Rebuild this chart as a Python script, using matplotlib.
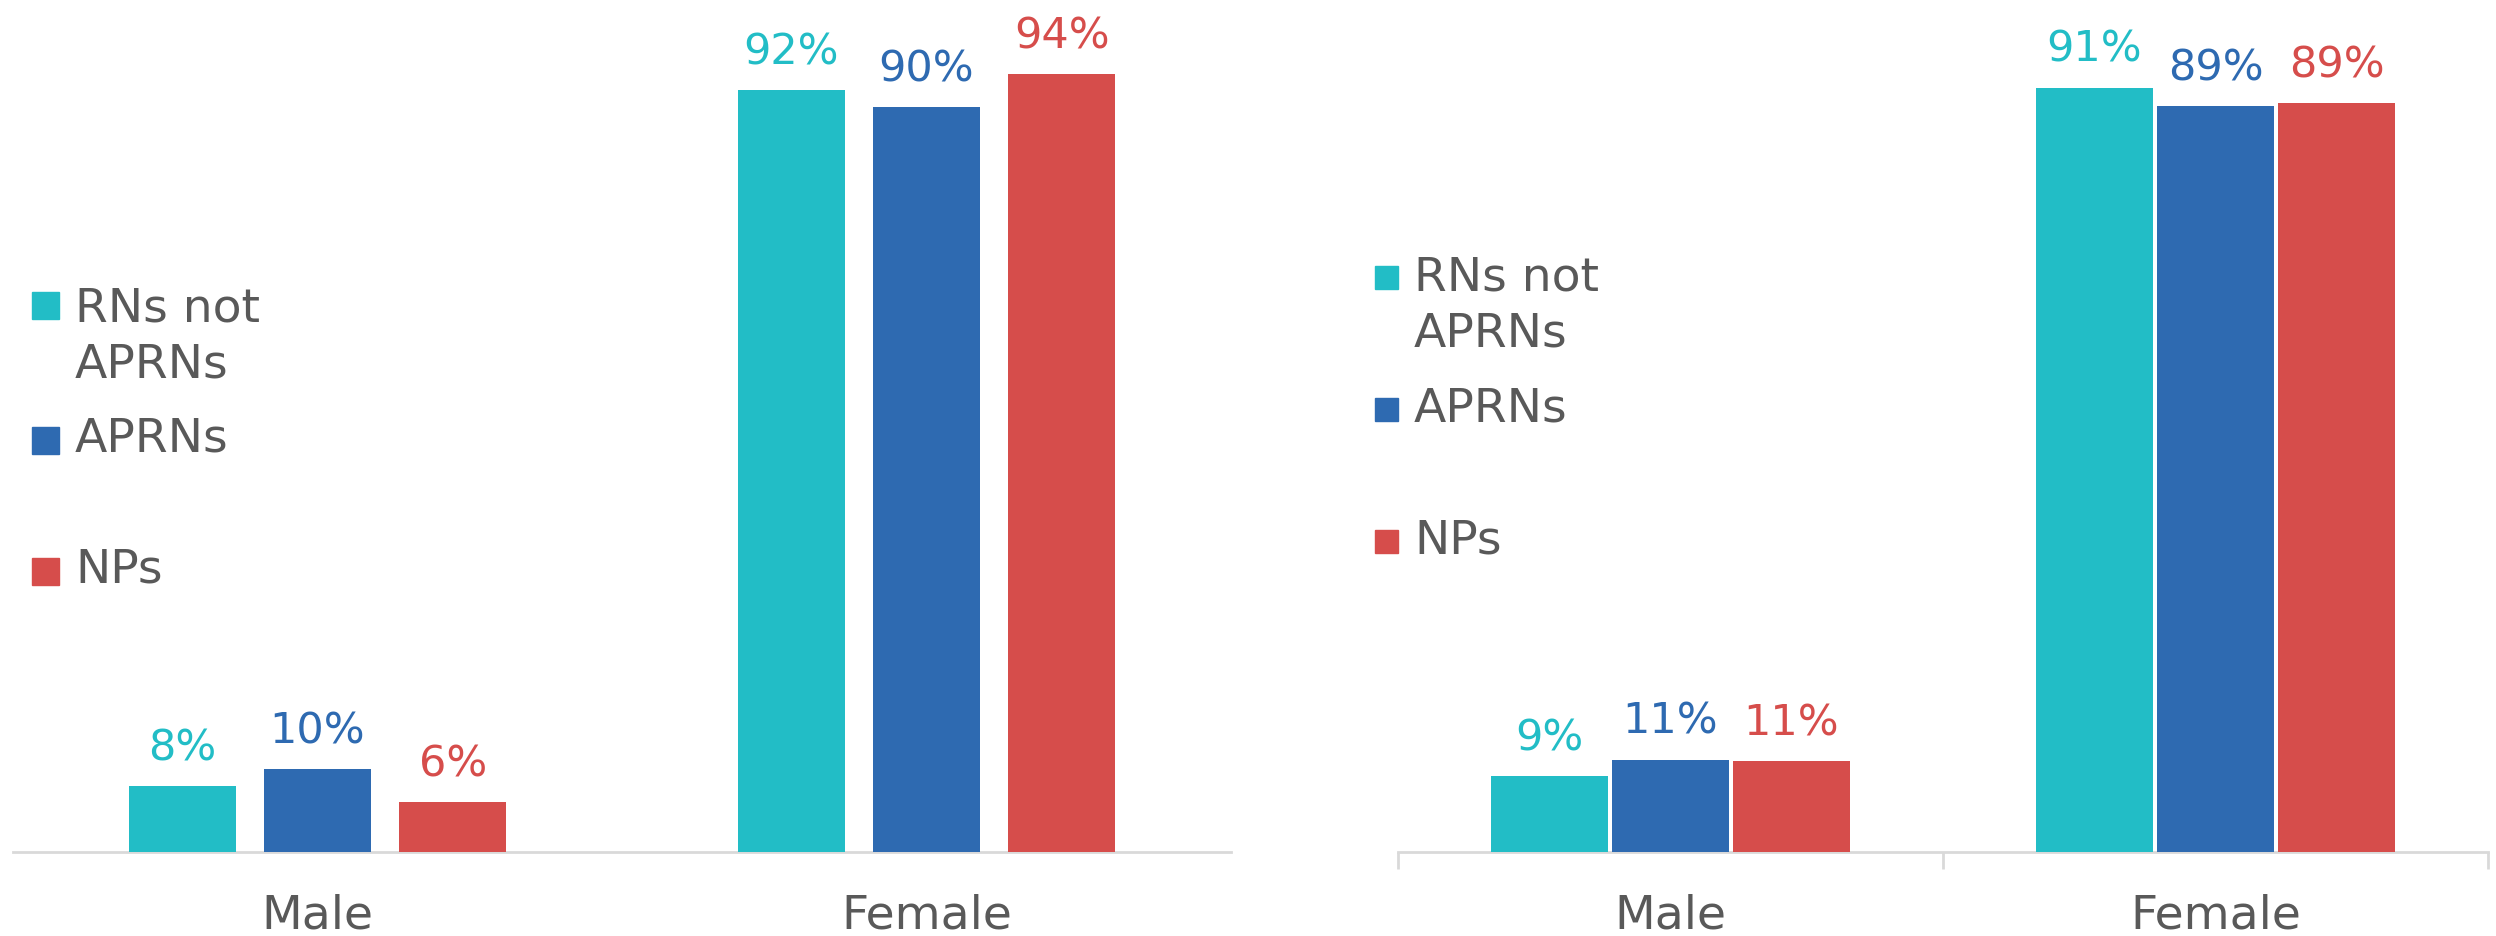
"""
Gender split of RNs, APRNs and NPs - two panels side by side
"""
import matplotlib.pyplot as plt
from matplotlib.patches import Rectangle
import numpy as np

categories = ['Male', 'Female']
series_names = ['RNs not\nAPRNs', 'APRNs', 'NPs']
colors = ['#22BDC6', '#2E6AB1', '#D64D4B']

left_values = [[8, 92], [10, 90], [6, 94]]
left_labels = [['8%', '92%'], ['10%', '90%'], ['6%', '94%']]

right_values = [[9, 91], [11, 88.8], [10.8, 89.2]]
right_labels = [['9%', '91%'], ['11%', '89%'], ['11%', '89%']]

TEXT_GRAY = '#595959'
AXIS_GRAY = '#D9D9D9'
W, H = 2496, 936

plt.rcParams['font.family'] = ['DejaVu Sans']

fig = plt.figure(figsize=(W / 100, H / 100), dpi=100)
fig.patch.set_facecolor('white')


def fx(px):
    return px / W


def fy(py):
    return 1 - py / H


def draw_panel(ax, values, labels, bar_width, step, boundary_ticks):
    x = np.arange(len(categories))
    for k, (vals, labs) in enumerate(zip(values, labels)):
        offset = (k - 1) * step
        bars = ax.bar(x + offset, vals, width=bar_width, color=colors[k],
                      edgecolor='none', zorder=3)
        ax.bar_label(bars, labels=labs, padding=12, color=colors[k],
                     fontsize=31)
    ax.set_xlim(-0.5, len(categories) - 0.5)
    ax.set_ylim(0, 100)
    ax.set_xticks(x)
    ax.set_xticklabels(categories, fontsize=34, color=TEXT_GRAY)
    ax.tick_params(axis='x', which='major', length=0, pad=30)
    ax.set_yticks([])
    for side in ['top', 'right', 'left']:
        ax.spines[side].set_visible(False)
    ax.spines['bottom'].set_color(AXIS_GRAY)
    ax.spines['bottom'].set_linewidth(2)
    if boundary_ticks:
        ax.set_xticks(np.arange(-0.5, len(categories)), minor=True)
        ax.tick_params(axis='x', which='minor', length=12, width=2,
                       color=AXIS_GRAY, direction='out')


def draw_legend(x_marker, marker_size, x_text, marker_ys, text_ys):
    for k in range(len(series_names)):
        fig.add_artist(Rectangle((fx(x_marker), fy(marker_ys[k] + marker_size / 2)),
                                 marker_size / W, marker_size / H,
                                 transform=fig.transFigure, color=colors[k]))
        fig.text(fx(x_text), fy(text_ys[k]), series_names[k], fontsize=34,
                 color=TEXT_GRAY, va='center', ha='left', linespacing=1.3)


# left panel
ax1 = fig.add_axes([fx(13), fy(852), fx(1231 - 13), (852 - 24) / H])
draw_panel(ax1, left_values, left_labels, 0.175, 0.222, False)
draw_legend(32, 27, 75, [305, 440, 571], [337, 439, 570])

# right panel
ax2 = fig.add_axes([fx(1398), fy(852), fx(2488 - 1398), (852 - 12) / H])
draw_panel(ax2, right_values, right_labels, 0.213, 0.222, True)
draw_legend(1375, 23, 1414, [277, 409, 541], [306, 409, 541])

fig.savefig('out.png', dpi=100, facecolor='white')
